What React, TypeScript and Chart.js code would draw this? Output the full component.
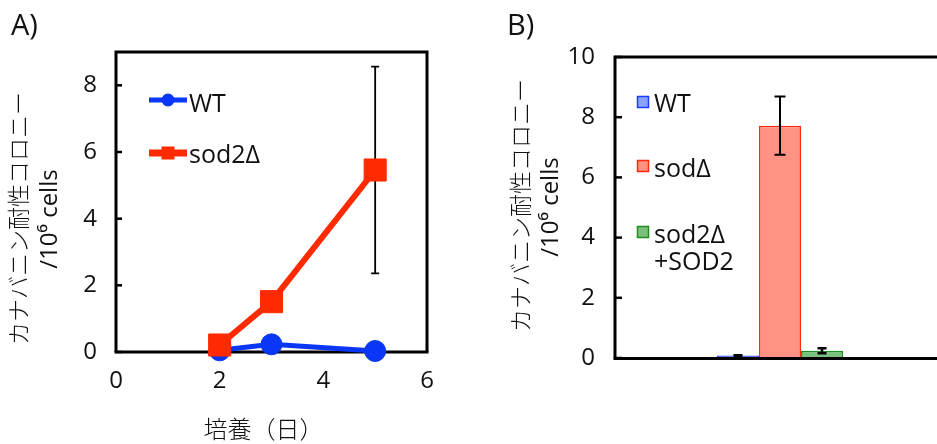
import { useEffect, useRef } from "react";
import Chart from "chart.js/auto";

const LATIN = '"Open Sans", "DejaVu Sans", sans-serif';
const CJK = '"Noto Sans CJK JP", sans-serif';
const INK = "#111111";

// ---------- Panel A data ----------
const daysA = [2, 3, 5];
const wtA = [0.05, 0.23, 0.03];
const sodA = [0.21, 1.51, 5.46];
const sodErrA = [0, 0, 3.1];
const xTicksA = [0, 2, 4, 6];
const yTicksA = [0, 2, 4, 6, 8];
const seriesNamesA = ["WT", "sod2Δ"];
const xTitleA = "培養（日）";

// ---------- Panel B data ----------
const strainsB = [["WT"], ["sodΔ"], ["sod2Δ", "+SOD2"]];
const valuesB = [0.08, 7.72, 0.24];
const errB = [0.02, 0.97, 0.08];
const yTicksB = [0, 2, 4, 6, 8, 10];

const yTitle = ["カナバニン耐性コロニー", "/10⁶ cells"];

const BLUE = "#0a36f5";
const RED = "#ff2a00";
const barFill = ["#8aa2fb", "#ff9282", "#7dbf7d"];
const barEdge = ["#1a3cff", "#ff2a10", "#1f8c1f"];

function drawRotated(ctx: CanvasRenderingContext2D, text: string, x: number, y: number, font: string, baseline: CanvasTextBaseline) {
  ctx.save();
  ctx.translate(x, y);
  ctx.rotate(-Math.PI / 2);
  ctx.font = font;
  ctx.fillStyle = INK;
  ctx.textAlign = "center";
  ctx.textBaseline = baseline;
  ctx.fillText(text, 0, 0);
  ctx.restore();
}

const panelAPlugin = {
  id: "panelA",
  beforeDatasetsDraw(chart: any) {
    const ctx = chart.ctx as CanvasRenderingContext2D;
    const { left, right, top, bottom } = chart.chartArea;
    const y = chart.scales.y;
    const x = chart.scales.x;
    ctx.save();
    ctx.strokeStyle = "#000";
    ctx.lineWidth = 3;
    ctx.beginPath();
    ctx.moveTo(left, bottom);
    ctx.lineTo(left, top);
    ctx.lineTo(right, top);
    ctx.lineTo(right, bottom);
    ctx.stroke();
    ctx.lineWidth = 3.2;
    ctx.beginPath();
    ctx.moveTo(left - 1.5, bottom);
    ctx.lineTo(right + 1.5, bottom);
    ctx.stroke();
    ctx.lineWidth = 2.5;
    yTicksA.forEach((v) => {
      const py = y.getPixelForValue(v);
      ctx.beginPath();
      ctx.moveTo(left, py);
      ctx.lineTo(left + 6, py);
      ctx.stroke();
    });
    ctx.lineWidth = 1.8;
    daysA.forEach((d, i) => {
      const e = sodErrA[i];
      if (!e) return;
      const px = x.getPixelForValue(d);
      const p1 = y.getPixelForValue(sodA[i] + e);
      const p2 = y.getPixelForValue(sodA[i] - e);
      ctx.beginPath();
      ctx.moveTo(px, p1);
      ctx.lineTo(px, p2);
      ctx.moveTo(px - 4, p1);
      ctx.lineTo(px + 4, p1);
      ctx.moveTo(px - 4, p2);
      ctx.lineTo(px + 4, p2);
      ctx.stroke();
    });
    ctx.restore();
  },
  afterDraw(chart: any) {
    const ctx = chart.ctx as CanvasRenderingContext2D;
    ctx.save();
    const ds = chart.data.datasets;
    ctx.strokeStyle = ds[0].borderColor;
    ctx.lineWidth = 5;
    ctx.beginPath();
    ctx.moveTo(149, 100);
    ctx.lineTo(187, 100);
    ctx.stroke();
    ctx.fillStyle = ds[0].borderColor;
    ctx.beginPath();
    ctx.arc(168, 100, 6.5, 0, Math.PI * 2);
    ctx.fill();
    ctx.strokeStyle = ds[1].borderColor;
    ctx.lineWidth = 7;
    ctx.beginPath();
    ctx.moveTo(149, 153);
    ctx.lineTo(187, 153);
    ctx.stroke();
    ctx.fillStyle = ds[1].borderColor;
    ctx.fillRect(161.5, 146.5, 13, 13);
    ctx.fillStyle = INK;
    ctx.font = `25px ${LATIN}`;
    ctx.textAlign = "left";
    ctx.textBaseline = "alphabetic";
    ctx.fillText(seriesNamesA[0], 189, 112);
    ctx.fillText(seriesNamesA[1], 189, 163);
    ctx.font = `29px ${LATIN}`;
    ctx.fillText("A)", 11, 35);
    ctx.font = `300 24px ${CJK}`;
    ctx.textAlign = "center";
    ctx.textBaseline = "middle";
    ctx.fillText(xTitleA, 263.5, 429);
    ctx.restore();
    drawRotated(ctx, yTitle[0], 18, 218.5, `300 23px ${CJK}`, "middle");
    drawRotated(ctx, yTitle[1], 57, 219, `24px ${LATIN}`, "alphabetic");
  },
};

const panelBPlugin = {
  id: "panelB",
  beforeDatasetsDraw(chart: any) {
    const ctx = chart.ctx as CanvasRenderingContext2D;
    const { left, right, top, bottom } = chart.chartArea;
    const y = chart.scales.y;
    ctx.save();
    ctx.strokeStyle = "#000";
    ctx.lineWidth = 3;
    ctx.beginPath();
    ctx.moveTo(left, bottom);
    ctx.lineTo(left, top);
    ctx.lineTo(right, top);
    ctx.lineTo(right, bottom);
    ctx.stroke();
    ctx.lineWidth = 2.5;
    yTicksB.forEach((v) => {
      const py = y.getPixelForValue(v);
      ctx.beginPath();
      ctx.moveTo(left, py);
      ctx.lineTo(left + 7, py);
      ctx.stroke();
    });
    ctx.restore();
  },
  afterDatasetsDraw(chart: any) {
    const ctx = chart.ctx as CanvasRenderingContext2D;
    const { left, right, bottom } = chart.chartArea;
    const y = chart.scales.y;
    ctx.save();
    ctx.strokeStyle = "#000";
    ctx.lineWidth = 3.2;
    ctx.beginPath();
    ctx.moveTo(left - 1.5, bottom + 0.5);
    ctx.lineTo(right, bottom + 0.5);
    ctx.stroke();
    valuesB.forEach((v, i) => {
      const el = chart.getDatasetMeta(i).data[0];
      const px = el.x;
      const p1 = y.getPixelForValue(v + errB[i]);
      const p2 = y.getPixelForValue(v - errB[i]);
      const cap = i === 1 ? 5.5 : 4.5;
      ctx.lineWidth = i === 2 ? 2.5 : 2;
      ctx.beginPath();
      ctx.moveTo(px, p1);
      ctx.lineTo(px, p2);
      ctx.moveTo(px - cap, p1);
      ctx.lineTo(px + cap, p1);
      ctx.moveTo(px - cap, p2);
      ctx.lineTo(px + cap, p2);
      ctx.stroke();
    });
    ctx.restore();
  },
  afterDraw(chart: any) {
    const ctx = chart.ctx as CanvasRenderingContext2D;
    ctx.save();
    const sq = [102, 166, 232];
    const baselines = [[112], [177], [243, 270]];
    ctx.font = `25px ${LATIN}`;
    ctx.textAlign = "left";
    ctx.textBaseline = "alphabetic";
    strainsB.forEach((lines, i) => {
      ctx.fillStyle = barFill[i];
      ctx.strokeStyle = barEdge[i];
      ctx.lineWidth = 1.5;
      ctx.fillRect(167.5, sq[i] - 5.5, 11, 11);
      ctx.strokeRect(167.5, sq[i] - 5.5, 11, 11);
      ctx.fillStyle = INK;
      lines.forEach((t, j) => ctx.fillText(t, 184, baselines[i][j]));
    });
    ctx.font = `29px ${LATIN}`;
    ctx.fillText("B)", 37, 35);
    ctx.restore();
    drawRotated(ctx, yTitle[0], 50, 205.5, `300 23px ${CJK}`, "middle");
    drawRotated(ctx, yTitle[1], 88, 207, `24px ${LATIN}`, "alphabetic");
  },
};

export default function App() {
  const refA = useRef<HTMLCanvasElement>(null);
  const refB = useRef<HTMLCanvasElement>(null);

  useEffect(() => {
    document.body.style.margin = "0";
    const tickFont = { family: LATIN, size: 24 };
    const a = new Chart(refA.current!, {
      type: "line",
      data: {
        datasets: [
          {
            label: seriesNamesA[0],
            data: daysA.map((d, i) => ({ x: d, y: wtA[i] })),
            borderColor: BLUE,
            backgroundColor: BLUE,
            borderWidth: 5,
            pointStyle: "circle",
            pointRadius: 10.5,
            pointBorderWidth: 1,
            pointBorderColor: BLUE,
            pointBackgroundColor: BLUE,
            order: 2,
            clip: false as any,
          },
          {
            label: seriesNamesA[1],
            data: daysA.map((d, i) => ({ x: d, y: sodA[i] })),
            borderColor: RED,
            backgroundColor: RED,
            borderWidth: 6,
            pointStyle: "rect",
            pointRadius: 15.6,
            pointBorderWidth: 1,
            pointBorderColor: RED,
            pointBackgroundColor: RED,
            order: 1,
            clip: false as any,
          },
        ],
      },
      options: {
        responsive: false,
        animation: false,
        events: [],
        layout: { padding: { left: 0, right: 43, top: 52, bottom: 0 } },
        plugins: { legend: { display: false }, tooltip: { enabled: false } },
        scales: {
          x: {
            type: "linear",
            min: 0,
            max: 6,
            afterBuildTicks: (s: any) => {
              s.ticks = xTicksA.map((v) => ({ value: v }));
            },
            afterFit: (s: any) => {
              s.height = 92;
            },
            grid: { display: false, drawTicks: false },
            border: { display: false },
            ticks: { font: tickFont, color: INK, padding: 15, maxRotation: 0 },
          },
          y: {
            type: "linear",
            min: 0,
            max: 9,
            afterBuildTicks: (s: any) => {
              s.ticks = yTicksA.map((v) => ({ value: v }));
            },
            afterFit: (s: any) => {
              s.width = 116;
            },
            grid: { display: false, drawTicks: false },
            border: { display: false },
            ticks: { font: tickFont, color: INK, padding: 19 },
          },
        },
      },
      plugins: [panelAPlugin],
    } as any);

    const b = new Chart(refB.current!, {
      type: "bar",
      data: {
        labels: [""],
        datasets: strainsB.map((lines, i) => ({
          label: lines.join(" "),
          data: [valuesB[i]],
          backgroundColor: barFill[i],
          borderColor: barEdge[i],
          borderWidth: 1.6,
          categoryPercentage: 0.382,
          barPercentage: 1,
        })),
      },
      options: {
        responsive: false,
        animation: false,
        events: [],
        layout: { padding: { left: 0, right: 5, top: 57, bottom: 0 } },
        plugins: { legend: { display: false }, tooltip: { enabled: false } },
        scales: {
          x: {
            afterFit: (s: any) => {
              s.height = 86;
            },
            grid: { display: false, drawTicks: false },
            border: { display: false },
            ticks: { display: false },
          },
          y: {
            type: "linear",
            min: 0,
            max: 10,
            afterBuildTicks: (s: any) => {
              s.ticks = yTicksB.map((v) => ({ value: v }));
            },
            afterFit: (s: any) => {
              s.width = 145;
            },
            grid: { display: false, drawTicks: false },
            border: { display: false },
            ticks: { font: tickFont, color: INK, padding: 20 },
          },
        },
      },
      plugins: [panelBPlugin],
    } as any);

    return () => {
      a.destroy();
      b.destroy();
    };
  }, []);

  return (
    <div
      style={{
        position: "fixed",
        left: 0,
        top: 0,
        width: 937,
        height: 444,
        overflow: "hidden",
        background: "#fff",
      }}
    >
      <canvas ref={refA} width={470} height={444} style={{ position: "absolute", left: 0, top: 0, display: "block" }} />
      <canvas ref={refB} width={480} height={444} style={{ position: "absolute", left: 470, top: 0, display: "block" }} />
    </div>
  );
}
